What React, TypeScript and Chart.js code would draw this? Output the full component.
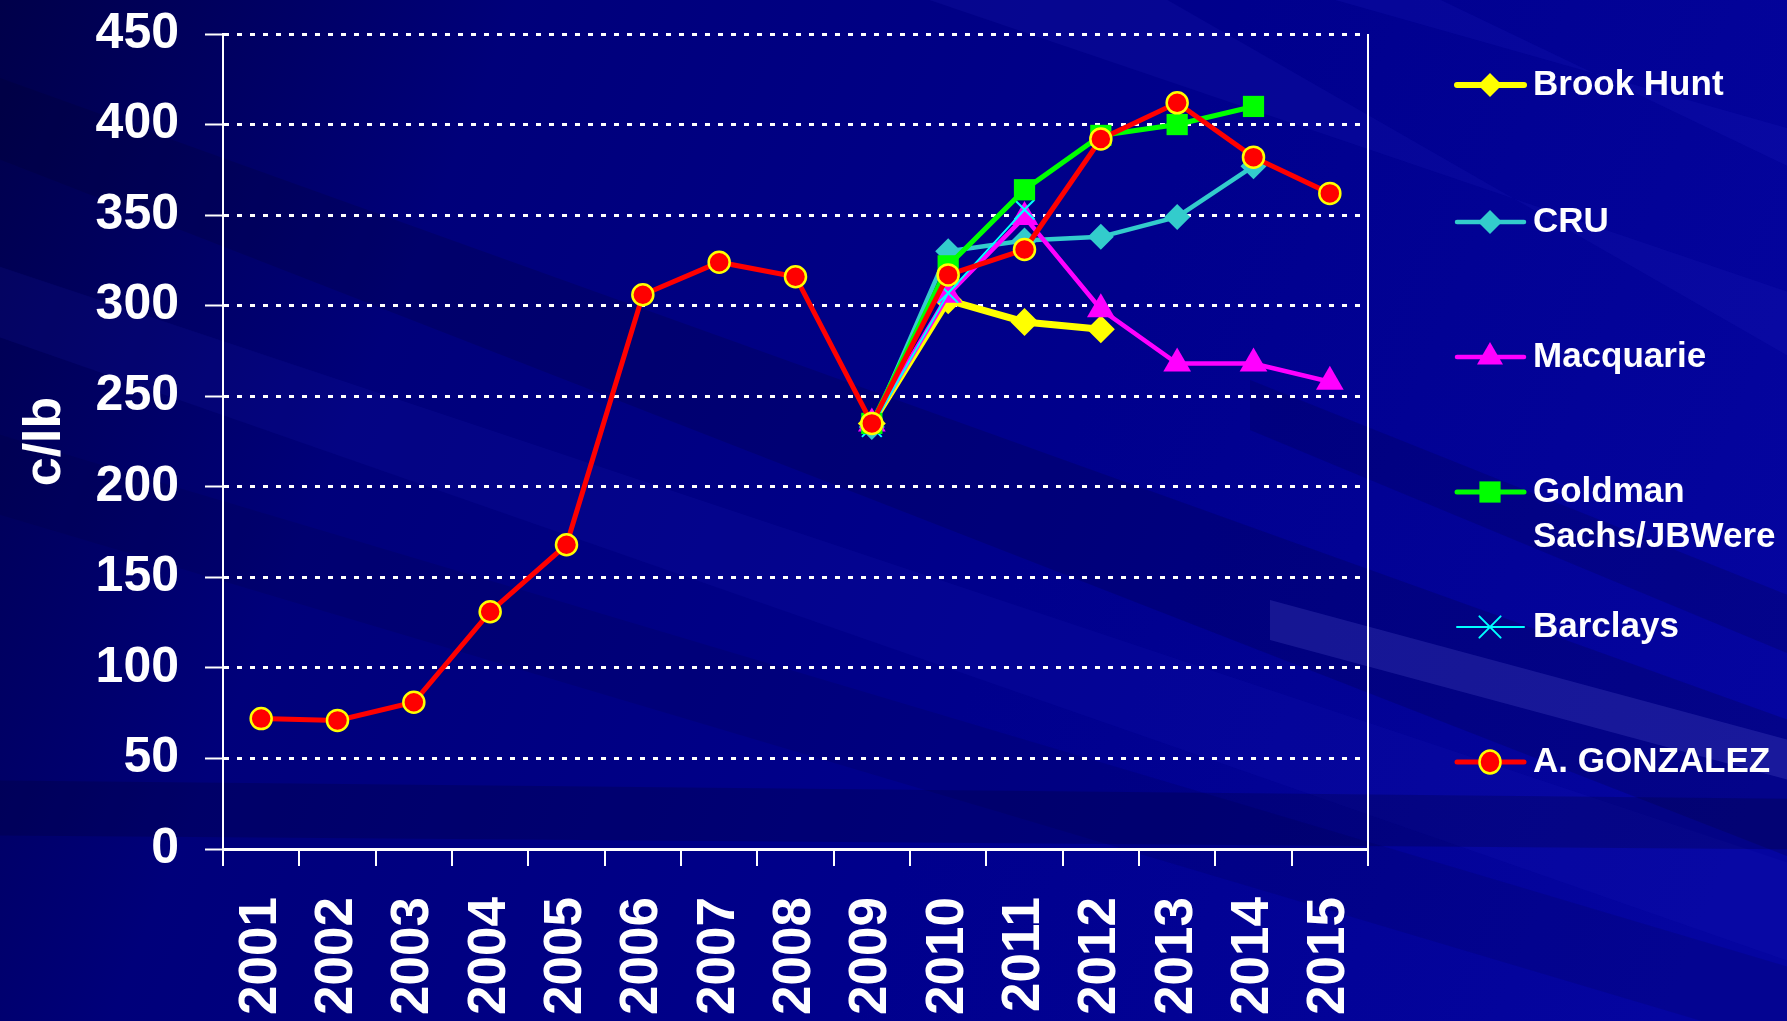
import React, { useEffect, useRef } from "react";
import { Chart, registerables } from "chart.js";

Chart.register(...registerables);

const years = ["2001", "2002", "2003", "2004", "2005", "2006", "2007", "2008", "2009", "2010", "2011", "2012", "2013", "2014", "2015"];
const yTicks = [0, 50, 100, 150, 200, 250, 300, 350, 400, 450];

const gonzalez = [72, 71, 81, 131, 168, 306, 324, 316, 235, 317, 331, 392, 412, 382, 362];
const brookHunt = [null, null, null, null, null, null, null, null, 235, 303, 291, 287, null, null, null];
const cru = [null, null, null, null, null, null, null, null, 233, 330, 336, 338, 349, 377, null];
const macquarie = [null, null, null, null, null, null, null, null, 235, 306, 349, 298, 268, 268, 258];
const goldman = [null, null, null, null, null, null, null, null, 235, 322, 364, 394, 400, 410, null];
const barclays = [null, null, null, null, null, null, null, null, 233, 307, 353, null, null, null, null];

const seriesNames = ["Brook Hunt", "CRU", "Macquarie", "Goldman\nSachs/JBWere", "Barclays", "A. GONZALEZ"];

const FONT = "'Liberation Sans', Arial, sans-serif";
const W = 1787;
const H = 1021;

function drawMarker(ctx: CanvasRenderingContext2D, style: string, x: number, y: number, r: number, fill: string, stroke: string, bw: number) {
  ctx.save();
  ctx.beginPath();
  if (style === "rectRot") {
    ctx.moveTo(x - r, y);
    ctx.lineTo(x, y - r);
    ctx.lineTo(x + r, y);
    ctx.lineTo(x, y + r);
    ctx.closePath();
  } else if (style === "triangle") {
    ctx.moveTo(x, y - r);
    ctx.lineTo(x + r * 0.866, y + r * 0.5);
    ctx.lineTo(x - r * 0.866, y + r * 0.5);
    ctx.closePath();
  } else if (style === "rect") {
    const s = r * Math.SQRT1_2;
    ctx.rect(x - s, y - s, 2 * s, 2 * s);
  } else if (style === "crossRot") {
    const s = r * Math.SQRT1_2;
    ctx.moveTo(x - s, y - s);
    ctx.lineTo(x + s, y + s);
    ctx.moveTo(x - s, y + s);
    ctx.lineTo(x + s, y - s);
  } else {
    ctx.ellipse(x, y, r, r * 1.1, 0, 0, Math.PI * 2);
  }
  if (style !== "crossRot") {
    ctx.fillStyle = fill;
    ctx.fill();
  }
  if (bw > 0) {
    ctx.lineWidth = bw;
    ctx.strokeStyle = stroke;
    ctx.stroke();
  }
  ctx.restore();
}

const backgroundPlugin = {
  id: "bgStreaks",
  beforeDraw(chart: any) {
    const ctx = chart.ctx as CanvasRenderingContext2D;
    ctx.save();
    const g = ctx.createLinearGradient(0, 0, W, H * 0.7);
    g.addColorStop(0, "#00004a");
    g.addColorStop(0.25, "#00007a");
    g.addColorStop(0.6, "#00008c");
    g.addColorStop(1, "#0505a0");
    ctx.fillStyle = g;
    ctx.fillRect(0, 0, W, H);
    const poly = (pts: number[][], fill: string) => {
      ctx.beginPath();
      ctx.moveTo(pts[0][0], pts[0][1]);
      for (let k = 1; k < pts.length; k++) ctx.lineTo(pts[k][0], pts[k][1]);
      ctx.closePath();
      ctx.fillStyle = fill;
      ctx.fill();
    };
    // diagonal streaks across the chart, descending to the right
    poly([[-50, 60], [-50, 140], [1900, 900], [1900, 760]], "rgba(0,0,40,0.18)");
    poly([[-50, 250], [-50, 320], [1900, 1000], [1900, 900]], "rgba(30,30,200,0.12)");
    poly([[-50, 420], [-50, 500], [1900, 1080], [1900, 1000]], "rgba(0,0,40,0.12)");
    // darker horizontal band near the bottom
    poly([[-50, 780], [-50, 835], [1900, 850], [1900, 800]], "rgba(0,0,40,0.22)");
    // rays fanning on the right side
    poly([[900, -10], [1150, -10], [1900, 420], [1900, 330]], "rgba(40,40,200,0.14)");
    poly([[1300, -10], [1420, -10], [1900, 220], [1900, 160]], "rgba(40,40,200,0.16)");
    poly([[1250, 380], [1250, 430], [1900, 700], [1900, 640]], "rgba(0,0,50,0.18)");
    poly([[1270, 600], [1900, 770], [1900, 810], [1270, 640]], "rgba(110,110,230,0.2)");
    ctx.restore();
  },
};

const framePlugin = {
  id: "frameAndLegend",
  afterDraw(chart: any) {
    const ctx = chart.ctx as CanvasRenderingContext2D;
    const { right, top, bottom } = chart.chartArea;
    ctx.save();
    ctx.strokeStyle = "#ffffff";
    ctx.lineWidth = 2;
    ctx.beginPath();
    ctx.moveTo(right, top);
    ctx.lineTo(right, bottom);
    ctx.stroke();

    // legend
    const ys = [85, 222, 357, 492, 627, 762];
    const x0 = 1457;
    const x1 = 1524;
    const xm = 1490;
    chart.data.datasets.forEach((ds: any, i: number) => {
      const y = ys[i];
      ctx.beginPath();
      ctx.moveTo(x0, y);
      ctx.lineTo(x1, y);
      ctx.strokeStyle = ds.borderColor;
      ctx.lineWidth = ds.legendLine;
      ctx.lineCap = "round";
      ctx.stroke();
      drawMarker(ctx, ds.pointStyle, xm, y, ds.legendRadius, ds.pointBackgroundColor, ds.pointBorderColor, ds.pointStyle === "crossRot" ? 2 : ds.pointBorderWidth);
      ctx.fillStyle = "#ffffff";
      ctx.font = `bold 35px ${FONT}`;
      ctx.textAlign = "left";
      ctx.textBaseline = "middle";
      const lines = String(ds.label).split("\n");
      lines.forEach((ln, j) => ctx.fillText(ln, 1533, y + j * 45));
    });
    ctx.restore();
  },
};

export default function App() {
  const ref = useRef<HTMLCanvasElement | null>(null);
  useEffect(() => {
    if (!ref.current) return;
    const mk = (label: string, data: (number | null)[], color: string, style: string, radius: number, bw: number, order: number, legendRadius: number, legendLine: number, pointBorder?: string, pointBorderWidth?: number) => ({
      label,
      data,
      borderColor: color,
      backgroundColor: color,
      borderWidth: bw,
      pointStyle: style,
      pointRadius: radius,
      pointHoverRadius: radius,
      pointBackgroundColor: color,
      pointBorderColor: pointBorder || color,
      pointBorderWidth: pointBorderWidth ?? 0,
      tension: 0,
      order,
      spanGaps: false,
      legendRadius,
      legendLine,
    });
    const chart = new Chart(ref.current, {
      type: "line",
      data: {
        labels: years,
        datasets: [
          mk(seriesNames[0], brookHunt, "#ffff00", "rectRot", 14, 7, 5, 12, 6),
          mk(seriesNames[1], cru, "#33cccc", "rectRot", 13, 4.5, 4, 12, 4.5),
          mk(seriesNames[2], macquarie, "#ff00ff", "triangle", 16, 4.5, 3, 15, 4.5),
          mk(seriesNames[3], goldman, "#00ff00", "rect", 15, 5, 1, 15, 5),
          mk(seriesNames[4], barclays, "#00ffff", "crossRot", 14, 2, 2, 15, 2, "#00ffff", 2),
          mk(seriesNames[5], gonzalez, "#ff0000", "circle", 10.5, 5, 0, 10.5, 5, "#ffff00", 2.5),
        ],
      },
      options: {
        responsive: false,
        animation: false,
        layout: { padding: { top: 0, right: 419, left: 0, bottom: 0 } },
        plugins: {
          legend: { display: false },
          tooltip: { enabled: false },
        },
        scales: {
          x: {
            type: "category",
            offset: true,
            grid: {
              offset: true,
              drawOnChartArea: false,
              drawTicks: true,
              tickLength: 17,
              color: "#ffffff",
              lineWidth: 2,
            },
            border: { display: true, color: "#ffffff", width: 3 },
            ticks: {
              color: "#ffffff",
              font: { family: FONT, size: 53, weight: "bold" },
              minRotation: 90,
              maxRotation: 90,
              autoSkip: false,
              padding: 31,
            },
            afterFit(scale: any) {
              scale.height = 172;
            },
          },
          y: {
            min: 0,
            max: 450,
            afterBuildTicks(scale: any) {
              scale.ticks = yTicks.map((v) => ({ value: v }));
            },
            grid: {
              color: "#ffffff",
              lineWidth: 3,
              drawTicks: true,
              tickLength: 18,
              tickColor: "#ffffff",
              tickWidth: 2,
            },
            border: { display: true, color: "#ffffff", width: 2, dash: [5, 8] },
            ticks: {
              color: "#ffffff",
              font: { family: FONT, size: 50, weight: "bold" },
              padding: 26,
            },
            title: {
              display: true,
              text: "c/lb",
              color: "#ffffff",
              font: { family: FONT, size: 52, weight: "bold" },
              padding: { top: 14, bottom: 0 },
            },
            afterFit(scale: any) {
              scale.width = 223;
              scale.paddingTop = 34;
              scale.paddingBottom = 30;
            },
          },
        },
      } as any,
      plugins: [backgroundPlugin, framePlugin],
    });
    return () => chart.destroy();
  }, []);
  return (
    <div style={{ position: "fixed", left: 0, top: 0, width: W, height: H, overflow: "hidden", background: "#000080" }}>
      <canvas ref={ref} width={W} height={H} style={{ display: "block", width: W, height: H }} />
    </div>
  );
}
